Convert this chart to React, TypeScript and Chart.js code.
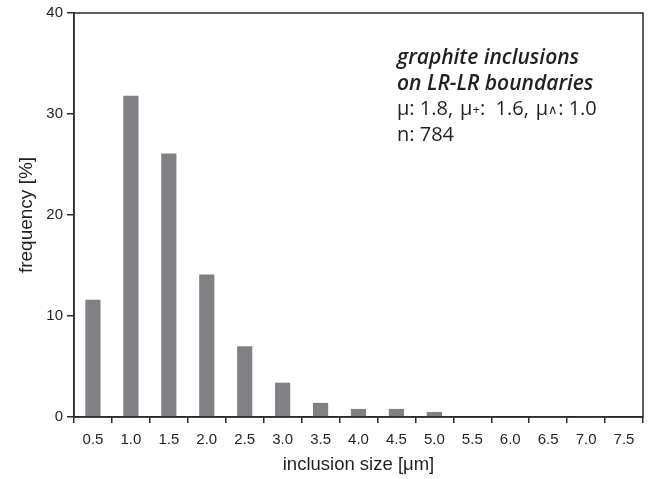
import React, { useEffect, useRef } from "react";
import { Chart, registerables } from "chart.js";

Chart.register(...registerables);

const categories = ["0.5", "1.0", "1.5", "2.0", "2.5", "3.0", "3.5", "4.0", "4.5", "5.0", "5.5", "6.0", "6.5", "7.0", "7.5"];
const frequency = [11.6, 31.8, 26.1, 14.1, 7.0, 3.4, 1.4, 0.8, 0.8, 0.5, 0, 0, 0.1, 0.1, 0];
const yTicks = [0, 10, 20, 30, 40];
const titleLines = ["graphite inclusions", "on LR-LR boundaries"];
const statItems = [
  { sym: "μ", sub: "", val: ": 1.8," },
  { sym: "μ", sub: "+", val: ":  1.6," },
  { sym: "μ", sub: "∧", val: ": 1.0" },
];
const countLine = "n: 784";

const AXIS = "#2b2b2b";
const FONT = "'Liberation Sans', Arial, sans-serif";
const NOTE_FONT = "'Open Sans', 'Noto Sans', sans-serif";

const framePlugin = {
  id: "frame",
  afterDraw(chart: any) {
    const { ctx, chartArea: a } = chart;
    ctx.save();
    ctx.strokeStyle = AXIS;
    ctx.lineWidth = 1.5;
    ctx.strokeRect(a.left, a.top, a.right - a.left, a.bottom - a.top);
    ctx.restore();
  },
};

const notePlugin = {
  id: "note",
  afterDraw(chart: any) {
    const { ctx } = chart;
    ctx.save();
    ctx.fillStyle = "#231f20";
    ctx.textBaseline = "alphabetic";
    ctx.textAlign = "left";
    const x0 = 397;
    ctx.font = `italic 600 21px ${NOTE_FONT}`;
    ctx.fillText(titleLines[0], x0, 64);
    ctx.fillText(titleLines[1], x0, 90);
    const reg = `400 20px ${NOTE_FONT}`;
    let x = x0;
    const y = 115;
    statItems.forEach((it, i) => {
      if (i > 0) x += 7;
      ctx.font = reg;
      ctx.fillText(it.sym, x, y);
      x += ctx.measureText(it.sym).width;
      if (it.sub) {
        ctx.font = `400 13px ${NOTE_FONT}`;
        ctx.fillText(it.sub, x, y - 1);
        x += ctx.measureText(it.sub).width;
      }
      ctx.font = reg;
      ctx.fillText(it.val, x, y);
      x += ctx.measureText(it.val).width;
    });
    ctx.font = reg;
    ctx.fillText(countLine, x0, 141);
    ctx.restore();
  },
};

export default function App() {
  const ref = useRef<HTMLCanvasElement>(null);
  useEffect(() => {
    document.body.style.margin = "0";
    const chart = new Chart(ref.current as HTMLCanvasElement, {
      type: "bar",
      data: {
        labels: categories,
        datasets: [
          {
            data: frequency,
            backgroundColor: "#808184",
            borderWidth: 0,
            barPercentage: 0.4,
            categoryPercentage: 1,
          },
        ],
      },
      options: {
        animation: false,
        responsive: false,
        maintainAspectRatio: false,
        layout: { padding: { top: 13, right: 9, left: 0, bottom: 0 } },
        plugins: { legend: { display: false }, tooltip: { enabled: false } },
        scales: {
          x: {
            offset: true,
            grid: { display: true, drawOnChartArea: false, drawTicks: true, tickLength: 6, color: AXIS, lineWidth: 1.5, offset: true },
            border: { display: true, color: AXIS, width: 1.5 },
            ticks: { color: "#231f20", font: { family: FONT, size: 15 }, padding: 8, maxRotation: 0, autoSkip: false },
            title: { display: true, text: "inclusion size [μm]", color: "#231f20", font: { family: FONT, size: 18.5 }, padding: { top: 4, bottom: 3 } },
            afterFit(scale: any) { scale.height = 62; },
          },
          y: {
            min: 0,
            max: 40,
            afterBuildTicks(scale: any) { scale.ticks = yTicks.map((v) => ({ value: v })); },
            grid: { display: true, drawOnChartArea: false, drawTicks: true, tickLength: 7, color: AXIS, lineWidth: 1.5 },
            border: { display: true, color: AXIS, width: 1.5 },
            ticks: { color: "#231f20", font: { family: FONT, size: 15 }, padding: 4 },
            title: { display: true, text: "frequency [%]", color: "#231f20", font: { family: FONT, size: 19 }, padding: { top: 15, bottom: 6 } },
            afterFit(scale: any) { scale.width = 74; },
          },
        },
      },
      plugins: [framePlugin, notePlugin],
    });
    return () => chart.destroy();
  }, []);
  return (
    <div style={{ width: 652, height: 479, background: "#fff" }}>
      <canvas ref={ref} width={652} height={479} style={{ display: "block" }} />
    </div>
  );
}
